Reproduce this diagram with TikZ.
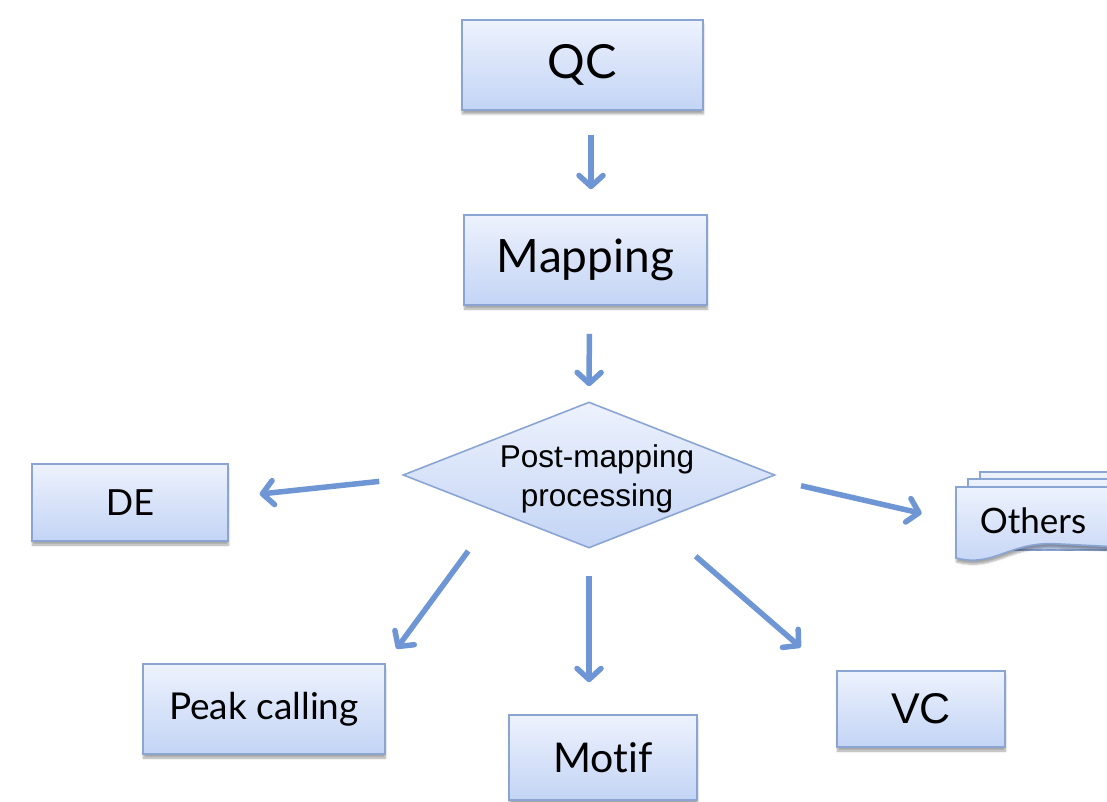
\documentclass[tikz,border=0pt]{standalone}
\usepackage{fontspec}
\setmainfont{Lato}[Ligatures=NoCommon]
\newfontfamily\arialfont{Liberation Sans}
\usetikzlibrary{shapes.geometric,arrows.meta,shadows.blur}
\definecolor{boxline}{HTML}{8BA5D3}
\definecolor{boxtop}{HTML}{EDF2FD}
\definecolor{boxbot}{HTML}{C3D4F5}
\definecolor{flowblue}{HTML}{6E96D4}
\tikzset{
  boxshade/.style={draw=boxline, line width=1.6pt, top color=boxtop, bottom color=boxbot},
  stepbox/.style={rectangle, boxshade, inner sep=0pt,
    blur shadow={shadow xshift=0.5pt, shadow yshift=-4pt, shadow blur steps=6, shadow opacity=35}},
  decide/.style={diamond, boxshade, inner sep=0pt, aspect=2.55},
  decidetext/.style={inner sep=0pt, align=center, font=\arialfont\fontsize{31.5}{39}\selectfont},
  flow/.style={draw=flowblue, line width=5.5pt, -{Straight Barb[length=11pt,width=24pt,round]}}
}

\begin{document}
\begin{tikzpicture}[x=1pt, y=-1pt]
	\useasboundingbox (0,0) rectangle (1107,802);
	\clip (0,0) rectangle (1107,802);

	% main line
	\node (qc) [stepbox, minimum width=241pt, minimum height=90pt, font=\fontsize{47}{50}\selectfont] at (582.5,65) {QC};
	\node (map) [stepbox, minimum width=243pt, minimum height=90pt, font=\fontsize{46}{50}\selectfont] at (585.5,260) {Mapping};
	\node (dm) [decide, minimum width=372pt, minimum height=146pt] at (589,475) {};
	\node (dmtext) [decidetext] at (597,479) {Post-mapping\\processing};

	% branches
	\node (de) [stepbox, minimum width=196pt, minimum height=77pt, font=\fontsize{36}{40}\selectfont] at (130,502.5) {DE};
	\node (pk) [stepbox, minimum width=242pt, minimum height=90pt, font=\fontsize{37}{40}\selectfont] at (264,709) {Peak calling};
	\node (mo) [stepbox, minimum width=188pt, minimum height=85pt, font=\fontsize{41}{44}\selectfont] at (603,757.5) {Motif};
	\node (vc) [stepbox, minimum width=168pt, minimum height=76pt, font=\arialfont\fontsize{43}{46}\selectfont] at (921,709) {VC};

	% stacked pages
	\draw[boxshade] (980,472) rectangle (1140,540);
	\draw[boxshade] (968,479) rectangle (1140,550);
	\draw[boxshade, blur shadow={shadow xshift=0.5pt, shadow yshift=-4pt, shadow blur steps=6, shadow opacity=35}]
		(956,487) -- (1140,487) -- (1140,548) -- (1060,544)
		.. controls (1010,540) and (995,568) .. (956,558) -- cycle;
	\node (oth) [inner sep=0pt, minimum width=156pt, minimum height=72pt, font=\fontsize{35}{40}\selectfont] at (1033,521) {Others};

	% arrows
	\draw[flow, shorten <=24pt, shorten >=25pt] ([xshift=8.5pt]qc.south) -- ([xshift=5.5pt]map.north);
	\draw[flow, shorten <=28pt, shorten >=15pt] ([xshift=4pt]map.south) -- (dm.north);
	\draw[flow, shorten <=31pt, shorten >=31pt] (dm.181) -- (de.3.5);
	\draw[flow, shorten <=34pt, shorten >=34pt] (dm.-1.3) -- (oth.west);
	\draw[flow, shorten <=48pt, shorten >=18pt] (dm.202.5) -- (pk.north east);
	\draw[flow, shorten <=27pt, shorten >=32pt] (dm.south) -- (dm.south |- mo.north);
	\draw[flow, shorten <=52pt, shorten >=47pt] (dm.-35.5) -- (vc.160);
\end{tikzpicture}
\end{document}
